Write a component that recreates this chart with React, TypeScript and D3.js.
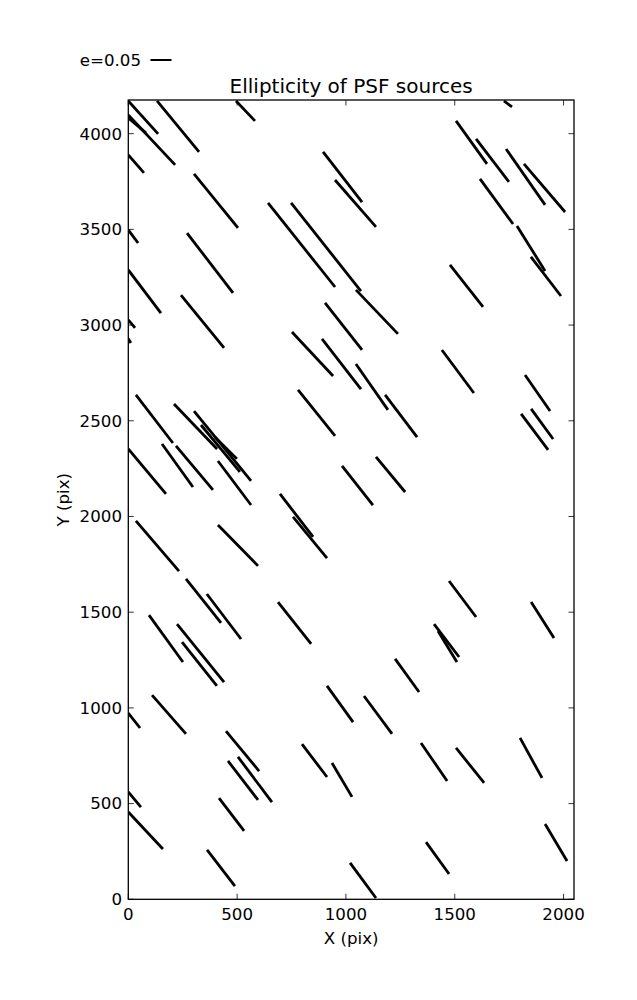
import React from 'react';
import * as d3 from 'd3';

// Stick endpoints of each PSF source (data units, pix)
const xStart = [0, 132, 495, 0, 0, 0, 302, 0, 270, 0, 242, 0, 0, 642, 748, 895, 950, 904, 752, 890,
  1726, 1506, 1598, 1736, 1818, 1616, 1786, 1850, 1046, 1478, 1441, 1046, 35, 210, 302, 334, 398, 0, 155, 219,
  412, 780, 982, 35, 412, 697, 757, 265, 361, 95, 224, 688, 1180, 1823, 1851, 1805, 1138, 1474, 1851, 1405,
  1423, 247, 109, 0, 449, 458, 504, 913, 798, 936, 0, 0, 417, 362, 1226, 1083, 1345, 1506, 1800, 1915,
  1368, 1019];
const yStart = [4171, 4171, 4171, 4098, 4082, 3889, 3790, 3497, 3481, 3288, 3157, 3027, 2928, 3638, 3638, 3905, 3758, 3116, 2964, 2928,
  4171, 4067, 3973, 3920, 3842, 3764, 3518, 3356, 3184, 3314, 2870, 2797, 2635, 2588, 2551, 2478, 2415, 2353, 2379, 2369,
  2290, 2661, 2264, 1977, 1956, 2118, 1998, 1674, 1595, 1485, 1438, 1553, 2635, 2739, 2562, 2536, 2311, 1663, 1553, 1438,
  1402, 1344, 1067, 973, 879, 723, 744, 1115, 811, 712, 561, 456, 529, 258, 1256, 1062, 817, 791, 843, 393,
  299, 190];
const xEnd = [137, 325, 582, 215, 81, 72, 504, 45, 481, 150, 440, 31, 12, 950, 1069, 1074, 1138, 1074, 941, 1069,
  1763, 1648, 1749, 1915, 2007, 1768, 1915, 1988, 1239, 1630, 1588, 1193, 205, 408, 564, 513, 499, 173, 297, 389,
  564, 950, 1124, 233, 596, 849, 913, 426, 518, 251, 440, 840, 1327, 1938, 1952, 1929, 1272, 1598, 1956, 1520,
  1510, 407, 265, 54, 601, 596, 660, 1033, 913, 1028, 58, 159, 532, 490, 1336, 1212, 1465, 1635, 1901, 2016,
  1474, 1138];
const yEnd = [3999, 3905, 4067, 3837, 4004, 3795, 3508, 3429, 3168, 3063, 2881, 2985, 2907, 3199, 3178, 3643, 3513, 2870, 2734, 2666,
  4140, 3842, 3748, 3628, 3591, 3528, 3283, 3152, 2954, 3095, 2645, 2557, 2384, 2353, 2186, 2233, 2301, 2118, 2154, 2139,
  2060, 2421, 2060, 1715, 1742, 1893, 1783, 1444, 1360, 1240, 1135, 1334, 2415, 2551, 2405, 2348, 2128, 1475, 1365, 1266,
  1240, 1115, 864, 895, 670, 519, 508, 926, 639, 535, 482, 263, 357, 69, 1083, 864, 618, 608, 634, 200,
  132, 7];

const xTicks = [0, 500, 1000, 1500, 2000];
const yTicks = [0, 500, 1000, 1500, 2000, 2500, 3000, 3500, 4000];
const legendE = 0.05;
const legendLabel = 'e=0.05';

const FONT = 'DejaVu Sans, sans-serif';

export default function App() {
  const W = 637, H = 1000;
  const left = 128.3, right = 574, top = 100, bottom = 899.3;
  const x = d3.scaleLinear().domain([0, 2048]).range([left, right]);
  const y = d3.scaleLinear().domain([0, 4176]).range([bottom, top]);
  const ePx = d3.scaleLinear().domain([0, legendE]).range([0, 21]);
  const tick = 5.5;

  return (
    <svg width={W} height={H} style={{ position: 'absolute', left: 0, top: 0, background: '#fff' }}>
      <rect x={0} y={0} width={W} height={H} fill="#fff" />
      <defs>
        <clipPath id="plotclip">
          <rect x={left} y={top} width={right - left} height={bottom - top} />
        </clipPath>
      </defs>
      <g clipPath="url(#plotclip)">
        {xStart.map((_, i) => (
          <line key={i} x1={x(xStart[i])} y1={y(yStart[i])} x2={x(xEnd[i])} y2={y(yEnd[i])}
            stroke="#000" strokeWidth={2.8} />
        ))}
      </g>
      {/* ticks */}
      {xTicks.map(t => (
        <g key={'xt' + t}>
          <line x1={x(t)} x2={x(t)} y1={bottom} y2={bottom - tick} stroke="#000" strokeWidth={0.8} />
          <line x1={x(t)} x2={x(t)} y1={top} y2={top + tick} stroke="#000" strokeWidth={0.8} />
          <text x={x(t)} y={920} textAnchor="middle" fontFamily={FONT} fontSize={16.67}>{t}</text>
        </g>
      ))}
      {yTicks.map(t => (
        <g key={'yt' + t}>
          <line x1={left} x2={left + tick} y1={y(t)} y2={y(t)} stroke="#000" strokeWidth={0.8} />
          <line x1={right} x2={right - tick} y1={y(t)} y2={y(t)} stroke="#000" strokeWidth={0.8} />
          <text x={122} y={y(t)} dy="0.35em" textAnchor="end" fontFamily={FONT} fontSize={16.67}>{t}</text>
        </g>
      ))}
      <rect x={left} y={top} width={right - left} height={bottom - top} fill="none" stroke="#000" strokeWidth={1.3} />
      <text x={(left + right) / 2} y={93} textAnchor="middle" fontFamily={FONT} fontSize={20}>Ellipticity of PSF sources</text>
      <text x={(left + right) / 2} y={944} textAnchor="middle" fontFamily={FONT} fontSize={16.67}>X (pix)</text>
      <text transform={`translate(69,${(top + bottom) / 2}) rotate(-90)`} textAnchor="middle" fontFamily={FONT} fontSize={16.67}>Y (pix)</text>
      {/* legend */}
      <text x={141} y={66} textAnchor="end" fontFamily={FONT} fontSize={16.67}>{legendLabel}</text>
      <line x1={150.5} x2={150.5 + ePx(legendE)} y1={60} y2={60} stroke="#000" strokeWidth={2} />
    </svg>
  );
}
